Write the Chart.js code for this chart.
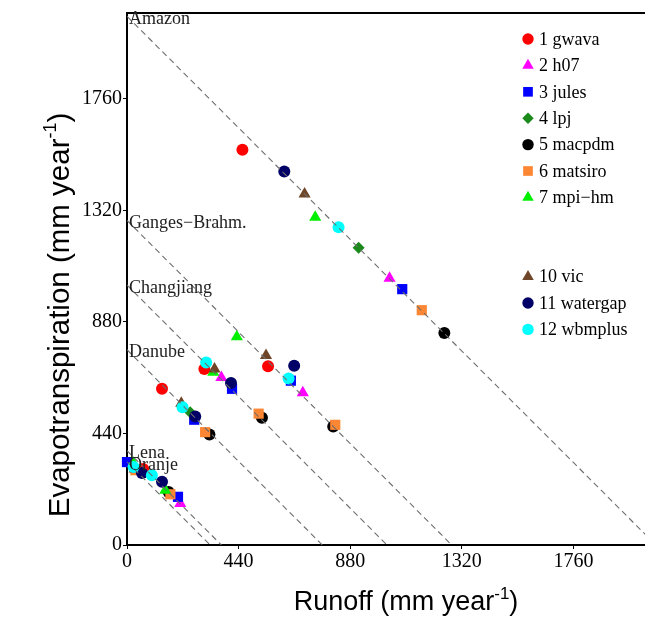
<!DOCTYPE html>
<html><head><meta charset="utf-8">
<script src="https://cdn.jsdelivr.net/npm/chart.js@4.4.0/dist/chart.umd.min.js"></script>
<style>html,body{margin:0;padding:0;background:#fff}#wrap{width:645px;height:620px;position:relative}</style>
</head><body><div id="wrap"><canvas id="c" width="645" height="620"></canvas></div>
<script>
// ---- data ----
const basins = ['Amazon', 'Ganges\u2212Brahm.', 'Changjiang', 'Danube', 'Lena', 'Oranje'];
const basinPrecip = [2085, 1280, 1025, 770, 372, 328];   // ET + Runoff = P reference lines
const xTicks = [0, 440, 880, 1320, 1760];
const yTicks = [0, 440, 880, 1320, 1760];

const modelNames = ['1 gwava', '2 h07', '3 jules', '4 lpj', '5 macpdm', '6 matsiro', '7 mpi\u2212hm', '10 vic', '11 watergap', '12 wbmplus'];
const modelSlots = [0, 1, 2, 3, 4, 5, 6, 9, 10, 11];

// runoff / evapotranspiration per basin (order as basins), null = not visible
const gwavaRunoff    = [455, 556, 305, 138, null, 64];
const gwavaET        = [1559, 705, 694, 616, null, 300];
const h07Runoff      = [1035, 693, 372, null, 210, null];
const h07ET          = [1052, 600, 661, null, 164, null];
const julesRunoff    = [1085, 646, 414, 265, 201, 0];
const julesET        = [1009, 648, 616, 494, 190, 327];
const lpjRunoff      = [913, null, null, 249, null, null];
const lpjET          = [1172, null, null, 524, null, null];
const macpdmRunoff   = [1251, 813, 532, 325, 164, null];
const macpdmET       = [836, 467, 502, 436, 209, null];
const matsiroRunoff  = [1162, 821, 519, 308, 171, 33];
const matsiroET      = [926, 474, 518, 445, 200, 295];
const mpihmRunoff    = [742, 433, 340, null, 151, 25];
const mpihmET        = [1293, 821, 681, null, 216, 322];
const vicRunoff      = [700, 548, 345, 214, null, 30];
const vicET          = [1384, 747, 694, 559, null, 300];
const watergapRunoff = [620, 659, 410, 269, 138, 59];
const watergapET     = [1473, 707, 639, 507, 249, 284];
const wbmplusRunoff  = [834, 637, 312, 219, 98, 26];
const wbmplusET      = [1253, 657, 720, 543, 275, 308];

const modelRunoff = [gwavaRunoff, h07Runoff, julesRunoff, lpjRunoff, macpdmRunoff, matsiroRunoff, mpihmRunoff, vicRunoff, watergapRunoff, wbmplusRunoff];
const modelET = [gwavaET, h07ET, julesET, lpjET, macpdmET, matsiroET, mpihmET, vicET, watergapET, wbmplusET];

// ---- styles ----
const modelColors = ['#ff0000', '#ff00ff', '#0000ff', '#1a8a1a', '#000000', '#fb8633', '#00f000', '#6e4526', '#000066', '#00ffff'];
const modelShapes = ['circle', 'triangle', 'rect', 'rectRot', 'circle', 'rect', 'triangle', 'triangle', 'circle', 'circle'];
const shapeRadius = {circle: 6, triangle: 7, rect: 7.2, rectRot: 6};

const datasets = [];
modelNames.forEach((name, m) => {
  const pts = [];
  basins.forEach((b, i) => {
    if (modelRunoff[m][i] !== null) pts.push({x: modelRunoff[m][i], y: modelET[m][i]});
  });
  datasets.push({
    label: name, data: pts, showLine: false,
    pointStyle: modelShapes[m], pointRadius: shapeRadius[modelShapes[m]], pointHoverRadius: shapeRadius[modelShapes[m]],
    backgroundColor: modelColors[m], borderColor: modelColors[m], borderWidth: 0,
    order: 100 - m, clip: false
  });
});
basins.forEach((b, i) => {
  datasets.push({
    type: 'line', label: b, data: [{x: 0, y: basinPrecip[i]}, {x: basinPrecip[i], y: 0}],
    showLine: true, borderColor: '#6e6e6e', borderWidth: 1.1, borderDash: [6, 4], pointRadius: 0,
    fill: false, order: 0
  });
});

const SERIF = '"Liberation Serif", "Times New Roman", serif';
const SANS = '"Liberation Sans", Arial, sans-serif';

function drawMarker(ctx, shape, r, x, y, color) {
  ctx.save();
  ctx.fillStyle = color;
  ctx.beginPath();
  if (shape === 'circle') { ctx.arc(x, y, r, 0, Math.PI * 2); }
  else if (shape === 'triangle') {
    for (let k = 0; k < 3; k++) {
      const a = k * 2 * Math.PI / 3;
      const px = x + Math.sin(a) * r, py = y - Math.cos(a) * r;
      k ? ctx.lineTo(px, py) : ctx.moveTo(px, py);
    }
    ctx.closePath();
  } else if (shape === 'rect') { const s = Math.SQRT1_2 * r; ctx.rect(x - s, y - s, 2 * s, 2 * s); }
  else if (shape === 'rectRot') { ctx.moveTo(x, y - r); ctx.lineTo(x + r, y); ctx.lineTo(x, y + r); ctx.lineTo(x - r, y); ctx.closePath(); }
  ctx.fill();
  ctx.restore();
}

function drawSupText(ctx, parts, x, y, size, family) {
  ctx.font = size + 'px ' + family;
  const w1 = ctx.measureText(parts[0]).width;
  const w3 = ctx.measureText(parts[2]).width;
  ctx.font = Math.round(size * 0.62) + 'px ' + family;
  const w2 = ctx.measureText(parts[1]).width;
  const total = w1 + w2 + w3;
  let cx = x - total / 2;
  ctx.textBaseline = 'middle'; ctx.textAlign = 'left'; ctx.fillStyle = '#000';
  ctx.font = size + 'px ' + family; ctx.fillText(parts[0], cx, y); cx += w1;
  ctx.font = Math.round(size * 0.62) + 'px ' + family; ctx.fillText(parts[1], cx, y - size * 0.33); cx += w2;
  ctx.font = size + 'px ' + family; ctx.fillText(parts[2], cx, y);
}

const decor = {
  id: 'decor',
  afterDraw(chart) {
    const ctx = chart.ctx, xs = chart.scales.x, ys = chart.scales.y, ca = chart.chartArea;
    ctx.save();
    ctx.strokeStyle = '#000'; ctx.lineWidth = 2;
    ctx.beginPath(); ctx.moveTo(ca.left, ca.top); ctx.lineTo(ca.right, ca.top); ctx.stroke();
    ctx.fillStyle = '#222'; ctx.font = '18px ' + SERIF; ctx.textBaseline = 'middle'; ctx.textAlign = 'left';
    basins.forEach((b, i) => {
      ctx.fillText(b, xs.getPixelForValue(0) + 2, ys.getPixelForValue(basinPrecip[i]) + 3);
    });
    modelNames.forEach((name, m) => {
      const y = 40 + 26.4 * modelSlots[m];
      drawMarker(ctx, modelShapes[m], shapeRadius[modelShapes[m]] * 0.95, 528, y - 1, modelColors[m]);
      ctx.fillStyle = '#000'; ctx.font = '18px ' + SERIF; ctx.textBaseline = 'middle'; ctx.textAlign = 'left';
      ctx.fillText(name, 539, y);
    });
    drawSupText(ctx, ['Runoff (mm year', '-1', ')'], 406, 603, 27, SANS);
    ctx.save();
    ctx.translate(61, 315); ctx.rotate(-Math.PI / 2);
    drawSupText(ctx, ['Evapotranspiration (mm year', '-1', ')'], 0, 0, 29.5, SANS);
    ctx.restore();
    ctx.restore();
  }
};

new Chart(document.getElementById('c'), {
  type: 'scatter',
  data: {datasets},
  options: {
    responsive: false, animation: false, devicePixelRatio: 1,
    layout: {autoPadding: false, padding: {top: 11, left: 0, right: 0, bottom: 0}},
    plugins: {legend: {display: false}, tooltip: {enabled: false}},
    scales: {
      x: {
        type: 'linear', min: 0, max: 2042,
        afterBuildTicks: s => { s.ticks = xTicks.map(v => ({value: v})); },
        afterFit: s => { s.height = 75; },
        grid: {display: true, drawOnChartArea: false, drawTicks: true, tickLength: 4, color: '#000', lineWidth: 1},
        border: {display: true, color: '#000', width: 2},
        ticks: {font: {family: SERIF, size: 20}, color: '#000', padding: 1, maxRotation: 0, autoSkip: false, callback: v => String(v)}
      },
      y: {
        type: 'linear', min: 0, max: 2098,
        afterBuildTicks: s => { s.ticks = yTicks.map(v => ({value: v})); },
        afterFit: s => { s.width = 127; },
        grid: {display: true, drawOnChartArea: false, drawTicks: true, tickLength: 4, color: '#000', lineWidth: 1},
        border: {display: true, color: '#000', width: 2},
        ticks: {font: {family: SERIF, size: 20}, color: '#000', padding: 1, autoSkip: false, callback: v => String(v)}
      }
    }
  },
  plugins: [decor]
});
</script>
</body></html>
